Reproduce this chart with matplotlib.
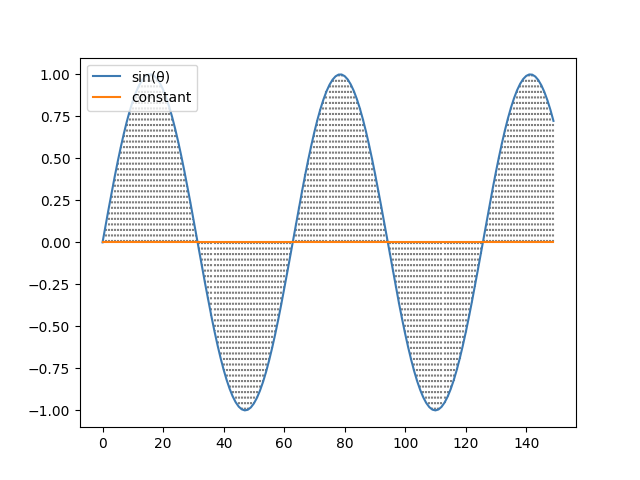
import numpy as np
import matplotlib
matplotlib.use("Agg")
import matplotlib.pyplot as plt

theta = np.arange(150)
sin_values = np.sin(theta / 10)
constant_values = np.zeros(150)

fig, ax = plt.subplots(figsize=(6.4, 4.8), dpi=100)
ax.vlines(theta, constant_values, sin_values, colors="gray", linestyles=":")
ax.plot(theta, sin_values, color="#3d7ab2", label="sin(θ)")
ax.plot(theta, constant_values, color="#ff7f0e", label="constant")
ax.legend(loc="upper left")
fig.savefig("out.png")
